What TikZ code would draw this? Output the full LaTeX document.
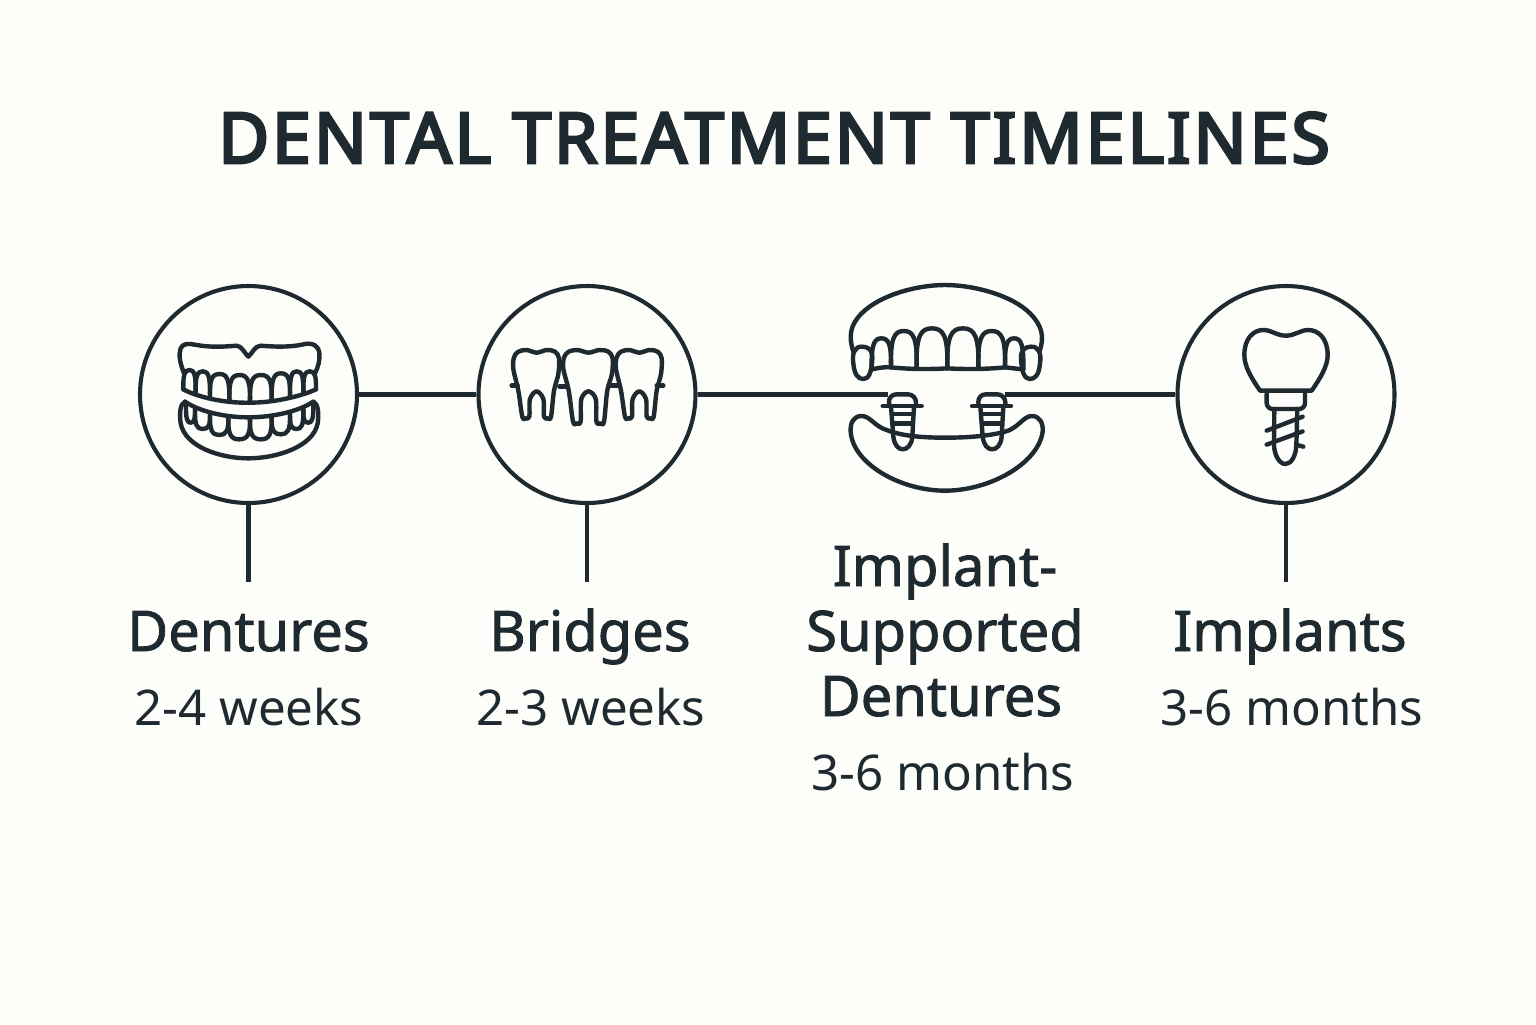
\documentclass[tikz,border=0pt]{standalone}
\usepackage{fontspec}
\setmainfont{Noto Sans}
\newfontfamily\titlefont{Noto Sans}[FakeBold=4,LetterSpace=4.1]
\newfontfamily\headfont{Noto Sans}[FakeBold=1.5]
\newfontfamily\subfont{Noto Sans}
\definecolor{ink}{HTML}{1F2A30}
\definecolor{paper}{HTML}{FDFDF9}
\tikzset{
  x=0.5pt,y=-0.5pt,
  ring/.style={circle,draw=ink,line width=2.05pt,minimum size=108.5pt,inner sep=0pt},
  link/.style={draw=ink,line width=2.05pt},
  icon/.style={draw=ink,line width=2.2pt,line join=round,line cap=round},
  titletext/.style={anchor=base,text=ink,font=\titlefont\fontsize{35}{40}\selectfont},
  headtext/.style={anchor=base,text=ink,font=\headfont\fontsize{28}{32.5}\selectfont,align=center},
  subtext/.style={anchor=base,text=ink,font=\subfont\fontsize{24.6}{26}\selectfont},
}
% arch tooth: x1, x2, extreme y, y at x1, y at x2
\newcommand{\archtooth}[5]{%
  \pgfmathsetmacro{\wq}{(#2-#1)*0.28}\pgfmathsetmacro{\midx}{(#1+#2)/2}%
  \draw[icon] (#1,#4) .. controls (#1-\wq*0.1,{#3+(#4-#3)*0.2}) and (#1+\wq*0.45,#3) .. (\midx,#3)
    .. controls (#2-\wq*0.45,#3) and (#2+\wq*0.1,{#3+(#5-#3)*0.2}) .. (#2,#5);}
\newcommand{\bridgetooth}[3]{% shift x, x stretch, root extension
  \begin{scope}[shift={(#1,0)},xscale=#2]
  \draw[icon] plot[smooth cycle,tension=0.55] coordinates {
    (0,60) (2,25) (15,8) (40,3) (70,11) (100,3) (125,8) (137,28) (135,75)
    (122,125) (113,#3) (103,{#3+5}) (92,#3) (90,150) (70,127) (50,150) (48,#3) (37,{#3+5}) (27,#3) (15,125)};
  \end{scope}}
\newcommand{\implantpost}[1]{%
  \begin{scope}[shift={(#1,0)}]
  \draw[icon,rounded corners=4pt] (178,378) -- (175,343) -- (258,343) -- (258,378);
  \draw[icon] (158,378) -- (275,378);
  \draw[icon] (183,380) -- (190,470) .. controls (193,495) and (205,508) .. (218,508)
     .. controls (232,508) and (245,495) .. (247,470) -- (252,380);
  \draw[icon] (188,402) -- (248,402);
  \draw[icon] (189,430) -- (248,430);
  \end{scope}}
\begin{document}
\begin{tikzpicture}
\useasboundingbox[fill=paper] (0,0) rectangle (1536,1024);

\node[titletext] (title) at (774,163) {DENTAL TREATMENT TIMELINES};

\node[ring] (c1) at (248.5,394.5) {};
\node[ring] (c2) at (587,394.5) {};
\node[ring] (c4) at (1286,394.5) {};
\coordinate (imL) at (888,394.5);
\coordinate (imR) at (1005,394.5);
\coordinate (e1) at (248.5,582);
\coordinate (e2) at (587,582);
\coordinate (e4) at (1286,582);
\draw[link] (c1.east) -- (c2.west);
\draw[link] (c2.east) -- (imL);
\draw[link] (imR) -- (c4.west);
\draw[link] (c1.south) -- (e1);
\draw[link] (c2.south) -- (e2);
\draw[link] (c4.south) -- (e4);

% full dentures icon
\begin{scope}[shift={(130,280)},scale=1/3]
\draw[icon] (163,282) .. controls (150,250) and (145,225) .. (152,205)
  .. controls (158,190) and (175,190) .. (195,194)
  .. controls (240,203) and (285,200) .. (320,197)
  .. controls (335,197) and (345,222) .. (355,230)
  .. controls (365,222) and (375,197) .. (392,197)
  .. controls (430,200) and (480,203) .. (525,192)
  .. controls (548,188) and (565,195) .. (568,220)
  .. controls (570,240) and (565,260) .. (555,280);
\archtooth{160}{197}{270}{328}{338}
\archtooth{197}{240}{274}{338}{348}
\archtooth{240}{298}{282}{348}{362}
\archtooth{298}{360}{285}{362}{368}
\archtooth{360}{425}{285}{368}{360}
\archtooth{425}{480}{280}{360}{348}
\archtooth{480}{520}{274}{348}{338}
\archtooth{520}{558}{274}{338}{328}
\draw[icon] (160,328) .. controls (200,350) and (280,370) .. (360,368) .. controls (430,368) and (510,350) .. (558,328);
% lower
\draw[icon] (165,365) .. controls (150,372) and (148,400) .. (152,430)
  .. controls (165,500) and (270,535) .. (355,535)
  .. controls (440,535) and (550,500) .. (563,430)
  .. controls (567,400) and (565,372) .. (550,365);
\draw[icon] (165,365) .. controls (210,395) and (285,412) .. (355,412) .. controls (425,412) and (505,395) .. (550,365);
\archtooth{168}{195}{428}{372}{388}
\archtooth{195}{240}{447}{388}{402}
\archtooth{240}{295}{465}{402}{410}
\archtooth{295}{360}{478}{410}{412}
\archtooth{360}{425}{478}{412}{410}
\archtooth{425}{480}{463}{410}{402}
\archtooth{480}{520}{447}{402}{388}
\archtooth{520}{550}{428}{388}{372}
\end{scope}

% bridge icon
\begin{scope}[shift={(470,320)},scale=1/3]
\begin{scope}[shift={(0,87)}]
\bridgetooth{130}{1}{203}
\bridgetooth{280}{1.08}{218}
\bridgetooth{438}{1}{203}
\end{scope}
\draw[icon] (125,197) -- (143,197);
\draw[icon] (268,199) -- (290,199);
\draw[icon] (418,197) -- (447,197);
\draw[icon] (560,197) -- (580,197);
\end{scope}

% implant-supported dentures icon
\begin{scope}[shift={(830,280)},scale=1/3]
\draw[icon] (70,215) .. controls (55,170) and (60,135) .. (95,100)
  .. controls (150,45) and (260,15) .. (345,15)
  .. controls (430,15) and (545,45) .. (600,100)
  .. controls (635,135) and (645,170) .. (628,215);
\draw[icon] (97,200) .. controls (75,198) and (65,220) .. (70,250)
  .. controls (73,285) and (85,297) .. (100,297)
  .. controls (115,297) and (125,280) .. (127,235)
  .. controls (128,210) and (115,200) .. (97,200) -- cycle;
\draw[icon] (603,200) .. controls (625,198) and (635,220) .. (630,250)
  .. controls (627,285) and (615,297) .. (600,297)
  .. controls (585,297) and (575,280) .. (573,235)
  .. controls (572,210) and (585,200) .. (603,200) -- cycle;
\archtooth{125}{183}{175}{268}{262}
\archtooth{183}{260}{153}{262}{263}
\archtooth{260}{352}{145}{263}{265}
\archtooth{352}{445}{145}{265}{263}
\archtooth{445}{525}{153}{263}{262}
\archtooth{525}{580}{175}{262}{268}
\draw[icon] (125,268) .. controls (150,263) and (170,260) .. (183,262) .. controls (240,268) and (300,268) .. (352,265) .. controls (400,268) and (470,268) .. (525,262) .. controls (545,264) and (565,267) .. (580,268);
\implantpost{0}
\implantpost{268}
\draw[icon] (95,408) .. controls (70,408) and (60,430) .. (62,455)
  .. controls (68,550) and (210,632) .. (345,632)
  .. controls (480,632) and (625,550) .. (638,455)
  .. controls (640,430) and (630,408) .. (605,408)
  .. controls (580,408) and (565,445) .. (525,455)
  .. controls (470,470) and (400,473) .. (345,473)
  .. controls (290,473) and (220,470) .. (170,450)
  .. controls (135,440) and (120,408) .. (95,408) -- cycle;
\end{scope}

% single implant icon
\begin{scope}[shift={(1210,320)},scale=1/3]
\draw[icon] (150,212) .. controls (125,175) and (103,140) .. (103,105)
  .. controls (103,55) and (130,30) .. (160,30)
  .. controls (185,30) and (200,47) .. (228,47)
  .. controls (255,47) and (270,30) .. (295,30)
  .. controls (325,30) and (353,55) .. (353,105)
  .. controls (353,140) and (330,175) .. (305,212) -- cycle;
\draw[icon,rounded corners=3pt] (170,222) -- (170,267) -- (285,267) -- (285,222);
\draw[icon] (193,267) -- (192,375) .. controls (193,405) and (208,432) .. (226,432)
  .. controls (245,432) and (258,405) .. (259,375) -- (262,267);
\draw[icon] (170,332) -- (278,290);
\draw[icon] (170,374) -- (278,334);
\draw[icon] (262,375) -- (280,380);
\end{scope}

\node[headtext] (l1) at (248.5,651) {Dentures};
\node[subtext] (s1) at (249,725) {2-4 weeks};
\node[headtext] (l2) at (590,651) {Bridges};
\node[subtext] (s2) at (591,725) {2-3 weeks};
\node[headtext] (l3) at (945,716) {Implant-\\Supported\\\kern-4pt Dentures};
\node[subtext] (s3) at (943,790) {3-6 months};
\node[headtext] (l4) at (1290,651) {Implants};
\node[subtext] (s4) at (1292,725) {3-6 months};
\end{tikzpicture}
\end{document}
